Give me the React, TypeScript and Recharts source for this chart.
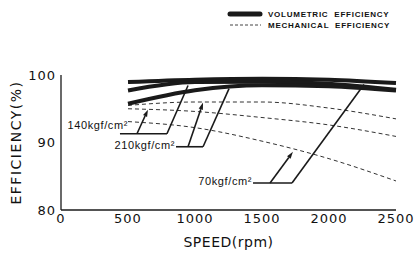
import React from 'react';
import { LineChart, Line, XAxis, YAxis, ReferenceLine } from 'recharts';

const speeds = [500, 1000, 1500, 2000, 2500];
const volumetric70 = [98.95, 99.3, 99.45, 99.3, 98.8];
const volumetric140 = [97.7, 98.95, 99.0, 98.7, 97.8];
const volumetric210 = [95.75, 97.75, 98.5, 98.35, 97.7];
const mechanical70 = [93.1, 92.2, 90.2, 87.6, 84.3];
const mechanical140 = [95.0, 94.6, 93.7, 92.6, 90.9];
const mechanical210 = [95.5, 96.0, 96.0, 95.1, 93.5];

const xTicks = [0, 500, 1000, 1500, 2000, 2500];
const yTicks = [80, 90, 100];
const legendLabels = ['VOLUMETRIC  EFFICIENCY', 'MECHANICAL  EFFICIENCY'];
const pressureLabels = ['140kgf/cm²', '210kgf/cm²', '70kgf/cm²'];

// bracket annotations in data units: bar start/end speed, bar efficiency,
// arrow base speed -> arrow tip (speed, eff), volumetric leader end (speed, eff)
const barStart = [440, 858, 1433];
const barEnd = [791, 1060, 1724];
const barEff = [91.3, 89.37, 84.01];
const arrowBase = [567, 948, 1560];
const arrowTipSpeed = [649, 1060, 1731];
const arrowTipEff = [94.87, 95.91, 88.62];
const leaderTipSpeed = [948, 1254, 2261];
const leaderTipEff = [98.44, 97.99, 98.59];
const labelOffset = [
  { dx: 8, dy: -9 },
  { dx: -1, dy: -2 },
  { dx: -1, dy: -1.5 },
];

const series = (vals: number[]) => speeds.map((s, i) => ({ speed: s, eff: vals[i] }));

const volSeries = [volumetric70, volumetric140, volumetric210];
const mechSeries = [mechanical70, mechanical140, mechanical210];

const INK = '#1a1a1a';

const ArrowLine = (props: any) => {
  const { x1, y1, x2, y2 } = props;
  const ang = Math.atan2(y2 - y1, x2 - x1);
  const len = 7;
  const hw = 2.2;
  const bx = x2 - len * Math.cos(ang);
  const by = y2 - len * Math.sin(ang);
  const px = -Math.sin(ang) * hw;
  const py = Math.cos(ang) * hw;
  return (
    <g>
      <line x1={x1} y1={y1} x2={bx} y2={by} stroke={INK} strokeWidth={1.6} />
      <polygon points={`${x2},${y2} ${bx + px},${by + py} ${bx - px},${by - py}`} fill={INK} />
    </g>
  );
};

const makeBar = (idx: number) => (props: any) => {
  const { x1, y1, x2, y2 } = props;
  const off = labelOffset[idx];
  return (
    <g>
      <line x1={x1} y1={y1} x2={x2} y2={y2} stroke={INK} strokeWidth={1.6} />
      <text
        x={x1 + off.dx}
        y={y1 + off.dy}
        textAnchor="end"
        dominantBaseline="central"
        fontFamily="Liberation Sans, Arial, sans-serif"
        fontSize={11}
        letterSpacing={0.6}
        fill="#111"
      >
        {pressureLabels[idx]}
      </text>
    </g>
  );
};

const PlainLine = (props: any) => {
  const { x1, y1, x2, y2 } = props;
  return <line x1={x1} y1={y1} x2={x2} y2={y2} stroke={INK} strokeWidth={1.6} />;
};

const LegendBox = () => (
  <svg width={195} height={26} style={{ display: 'block' }}>
    <line x1={8} y1={8} x2={38} y2={8} stroke={INK} strokeWidth={5} strokeLinecap="round" />
    <text x={46} y={8} dominantBaseline="central" fontFamily="Liberation Sans, Arial, sans-serif" fontSize={8} fontWeight="bold" letterSpacing={0.75} fill="#111" style={{ whiteSpace: 'pre' }}>
      {legendLabels[0]}
    </text>
    <line x1={8} y1={19} x2={39} y2={19} stroke="#444" strokeWidth={1} strokeDasharray="3 2" />
    <text x={46} y={19} dominantBaseline="central" fontFamily="Liberation Sans, Arial, sans-serif" fontSize={8} fontWeight="bold" letterSpacing={0.75} fill="#111" style={{ whiteSpace: 'pre' }}>
      {legendLabels[1]}
    </text>
  </svg>
);

export default function App() {
  const tickStyle = { fontFamily: 'DejaVu Sans, sans-serif', fontSize: 13, fill: '#111', letterSpacing: 1 };
  return (
    <div style={{ position: 'absolute', left: 0, top: 0, width: 419, height: 255 }}>
      <LineChart width={419} height={255} margin={{ top: 75, right: 23, bottom: 0, left: 0 }}>
        <XAxis
          type="number"
          dataKey="speed"
          domain={[0, 2500]}
          ticks={xTicks}
          tickLine={false}
          tickSize={2}
          tickMargin={2}
          height={45}
          axisLine={{ stroke: INK, strokeWidth: 1.3 }}
          tick={tickStyle}
          allowDuplicatedCategory={false}
          label={{ value: 'SPEED(rpm)', position: 'insideBottom', offset: 8, style: { fontFamily: 'DejaVu Sans, sans-serif', fontSize: 14, fill: '#111', letterSpacing: 0.5 } }}
        />
        <YAxis
          type="number"
          domain={[80, 100]}
          ticks={yTicks}
          tickLine={false}
          tickSize={3}
          tickMargin={2}
          width={61}
          axisLine={{ stroke: INK, strokeWidth: 1.3 }}
          tick={tickStyle}
          label={{ value: 'EFFICIENCY(%)', angle: -90, position: 'insideLeft', offset: 16, style: { textAnchor: 'middle', fontFamily: 'DejaVu Sans, sans-serif', fontSize: 14, fill: '#111', letterSpacing: 1.5 } }}
        />
        {mechSeries.map((vals, i) => (
          <Line
            key={'m' + i}
            data={series(vals)}
            dataKey="eff"
            type="monotone"
            stroke="#333"
            strokeWidth={1}
            strokeDasharray="4 3"
            dot={false}
            isAnimationActive={false}
            legendType="none"
          />
        ))}
        {volSeries.map((vals, i) => (
          <Line
            key={'v' + i}
            data={series(vals)}
            dataKey="eff"
            type="monotone"
            stroke={INK}
            strokeWidth={4}
            dot={false}
            isAnimationActive={false}
            legendType="none"
          />
        ))}
        {barStart.map((_, i) => (
          <ReferenceLine
            key={'bar' + i}
            segment={[{ x: barStart[i], y: barEff[i] }, { x: barEnd[i], y: barEff[i] }]}
            shape={makeBar(i)}
            ifOverflow="visible"
          />
        ))}
        {barStart.map((_, i) => (
          <ReferenceLine
            key={'arr' + i}
            segment={[{ x: arrowBase[i], y: barEff[i] }, { x: arrowTipSpeed[i], y: arrowTipEff[i] }]}
            shape={ArrowLine}
            ifOverflow="visible"
          />
        ))}
        {barStart.map((_, i) => (
          <ReferenceLine
            key={'lead' + i}
            segment={[{ x: barEnd[i], y: barEff[i] }, { x: leaderTipSpeed[i], y: leaderTipEff[i] }]}
            shape={PlainLine}
            ifOverflow="visible"
          />
        ))}
      </LineChart>
      <div style={{ position: 'absolute', left: 222, top: 6 }}>
        <LegendBox />
      </div>
    </div>
  );
}
